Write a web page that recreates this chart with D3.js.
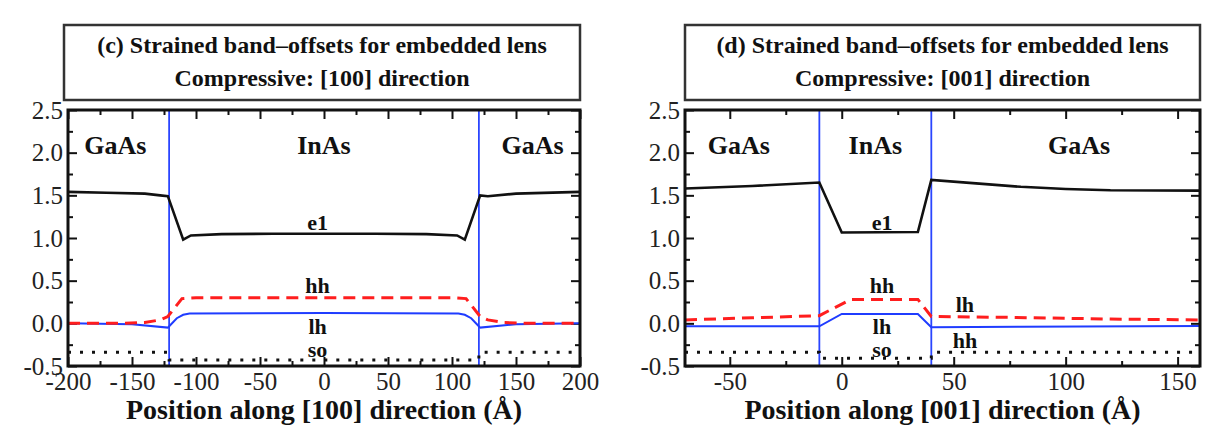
<!DOCTYPE html>
<html>
<head>
<meta charset="utf-8">
<script src="https://cdn.jsdelivr.net/npm/d3@7"></script>
<style>
  body { margin: 0; background: #fff; }
</style>
</head>
<body>
<div id="chart"></div>
<script>
// Panel (c): [100] direction
const titleC = ["(c) Strained band\u2013offsets for embedded lens", "Compressive: [100] direction"];
const axisTitleC = "Position along [100] direction (\u00c5)";
const xTicksC = [-200, -150, -100, -50, 0, 50, 100, 150, 200];
const interfacesC = [-121, 121];
const e1C = [[-200, 1.54], [-170, 1.53], [-140, 1.52], [-128, 1.50], [-122, 1.49], [-110, 0.98], [-104, 1.03],
  [-80, 1.045], [-40, 1.05], [0, 1.05], [40, 1.05], [80, 1.045], [104, 1.03], [110, 0.98],
  [122, 1.50], [128, 1.49], [150, 1.52], [200, 1.54]];
const hhC = [[-200, 0.0], [-160, 0.0], [-140, 0.01], [-128, 0.04], [-122, 0.08], [-111, 0.29], [-100, 0.3],
  [0, 0.3], [100, 0.3], [111, 0.29], [122, 0.08], [128, 0.04], [140, 0.01], [160, 0.0], [200, 0.0]];
const lhC = [[-200, 0.0], [-150, -0.01], [-122, -0.05], [-120, -0.02], [-115, 0.06], [-110, 0.1], [-105, 0.115],
  [0, 0.12], [105, 0.115], [110, 0.1], [115, 0.06], [120, -0.02], [122, -0.05], [150, -0.01], [200, 0.0]];
const soC = [[-200, -0.34], [-121, -0.34], [-121, -0.43], [121, -0.43], [121, -0.34], [200, -0.34]];
const labelsC = [
  { t: "GaAs", x: -163, y: 1.98, big: true }, { t: "InAs", x: 0, y: 1.98, big: true },
  { t: "GaAs", x: 163, y: 1.98, big: true },
  { t: "e1", x: -5, y: 1.09 }, { t: "hh", x: -5, y: 0.35 }, { t: "lh", x: -5, y: -0.12 }, { t: "so", x: -5, y: -0.40 }
];

// Panel (d): [001] direction
const titleD = ["(d) Strained band\u2013offsets for embedded lens", "Compressive: [001] direction"];
const axisTitleD = "Position along [001] direction (\u00c5)";
const xTicksD = [-50, 0, 50, 100, 150];
const interfacesD = [-10, 40];
const e1D = [[-70, 1.58], [-40, 1.61], [-10, 1.65], [0, 1.065], [34, 1.07], [40, 1.68], [60, 1.64],
  [80, 1.6], [100, 1.575], [120, 1.56], [160, 1.555]];
const hhD = [[-70, 0.04], [-40, 0.065], [-10, 0.09], [4, 0.28], [34, 0.28], [40, 0.08], [75, 0.07],
  [120, 0.05], [160, 0.04]];
const lhD = [[-70, -0.035], [-10, -0.035], [0, 0.11], [34, 0.11], [40, -0.045], [80, -0.04], [160, -0.03]];
const soD = [[-70, -0.34], [-10, -0.34], [-10, -0.41], [40, -0.41], [40, -0.34], [160, -0.34]];
const labelsD = [
  { t: "GaAs", x: -46, y: 1.98, big: true }, { t: "InAs", x: 15, y: 1.98, big: true },
  { t: "GaAs", x: 106, y: 1.98, big: true },
  { t: "e1", x: 18, y: 1.09 }, { t: "hh", x: 18, y: 0.35 }, { t: "lh", x: 18, y: -0.12 }, { t: "so", x: 18, y: -0.40 },
  { t: "lh", x: 55, y: 0.13 }, { t: "hh", x: 55, y: -0.29 }
];

const yTicks = [-0.5, 0.0, 0.5, 1.0, 1.5, 2.0, 2.5];

const W = 1205, H = 432;
const SERIF = "'Liberation Serif', 'Times New Roman', Times, serif";
const svg = d3.select("#chart").append("svg")
  .attr("width", W).attr("height", H);

function drawPanel(p) {
  const x = d3.scaleLinear().domain(p.xDomain).range([p.left, p.right]);
  const y = d3.scaleLinear().domain([-0.5, 2.5]).range([366, 110]);
  const g = svg.append("g");

  // title box
  g.append("rect")
    .attr("x", p.boxLeft).attr("y", 25)
    .attr("width", p.right - p.boxLeft).attr("height", 75)
    .attr("fill", "#fff").attr("stroke", "#333").attr("stroke-width", 2.5);
  const cx = (p.boxLeft + p.right) / 2;
  g.append("text").attr("x", cx).attr("y", 53)
    .attr("text-anchor", "middle").attr("font-weight", "bold").attr("font-size", 24)
    .attr("fill", "#111").text(p.title[0]);
  g.append("text").attr("x", cx).attr("y", 86)
    .attr("text-anchor", "middle").attr("font-weight", "bold").attr("font-size", 24)
    .attr("fill", "#111").text(p.title[1]);

  // minor ticks every 25 along x, every 0.25 along y
  const xMinor = d3.range(Math.ceil(p.xDomain[0] / 25) * 25, p.xDomain[1] + 1, 25)
    .filter(v => !p.xTicks.includes(v));
  const yMinor = [-0.25, 0.25, 0.75, 1.25, 1.75, 2.25];

  const axes = [
    [d3.axisBottom(x).tickValues(p.xTicks).tickSize(-9).tickPadding(6), `translate(0,366)`],
    [d3.axisBottom(x).tickValues(xMinor).tickSize(-5).tickFormat(""), `translate(0,366)`],
    [d3.axisTop(x).tickValues(p.xTicks).tickSize(-9).tickFormat(""), `translate(0,110)`],
    [d3.axisTop(x).tickValues(xMinor).tickSize(-5).tickFormat(""), `translate(0,110)`],
    [d3.axisLeft(y).tickValues(yTicks).tickSize(-9).tickPadding(5).tickFormat(d3.format(".1f")), `translate(${p.left},0)`],
    [d3.axisLeft(y).tickValues(yMinor).tickSize(-5).tickFormat(""), `translate(${p.left},0)`],
    [d3.axisRight(y).tickValues(yTicks).tickSize(-9).tickFormat(""), `translate(${p.right},0)`],
    [d3.axisRight(y).tickValues(yMinor).tickSize(-5).tickFormat(""), `translate(${p.right},0)`]
  ];
  axes.forEach(([ax, tr]) => {
    const a = g.append("g").attr("transform", tr).call(ax)
      .attr("font-family", null).attr("font-size", null);
    a.select(".domain").remove();
    a.selectAll("line").attr("stroke", "#111").attr("stroke-width", 2);
    a.selectAll("text").style("font-size", "25px").attr("fill", "#222")
      .text(function () { return this.textContent.replace("\u2212", "-"); });
  });

  // interface lines
  g.selectAll(".iface").data(p.interfaces).join("line")
    .attr("x1", d => x(d)).attr("x2", d => x(d))
    .attr("y1", 110).attr("y2", 366)
    .attr("stroke", "#2a45ff").attr("stroke-width", 1.8);

  const line = d3.line().x(d => x(d[0])).y(d => y(d[1]));

  g.append("path").attr("d", line(p.so)).attr("fill", "none")
    .attr("stroke", "#111").attr("stroke-width", 3).attr("stroke-dasharray", "3,9");
  g.append("path").attr("d", line(p.lh)).attr("fill", "none")
    .attr("stroke", "#1f3cff").attr("stroke-width", 2);
  g.append("path").attr("d", line(p.hh)).attr("fill", "none")
    .attr("stroke", "#ff1e1e").attr("stroke-width", 3).attr("stroke-dasharray", "12,7");
  g.append("path").attr("d", line(p.e1)).attr("fill", "none")
    .attr("stroke", "#111").attr("stroke-width", 2.6);

  // plot frame
  g.append("rect")
    .attr("x", p.left).attr("y", 110)
    .attr("width", p.right - p.left).attr("height", 256)
    .attr("fill", "none").attr("stroke", "#111").attr("stroke-width", 3);

  // annotations
  g.selectAll(".lbl").data(p.labels).join("text")
    .attr("x", d => x(d.x)).attr("y", d => y(d.y))
    .attr("text-anchor", "middle").attr("font-weight", "bold")
    .attr("font-size", d => d.big ? 26 : 22).attr("fill", "#111")
    .text(d => d.t);

  // axis title
  g.append("text").attr("x", (p.left + p.right) / 2).attr("y", 419)
    .attr("text-anchor", "middle").attr("font-weight", "bold").attr("font-size", 28)
    .attr("fill", "#111").text(p.axisTitle);
}

drawPanel({
  xDomain: [-200, 200], left: 68, right: 580, boxLeft: 64,
  title: titleC, axisTitle: axisTitleC, xTicks: xTicksC, interfaces: interfacesC,
  e1: e1C, hh: hhC, lh: lhC, so: soC, labels: labelsC
});
drawPanel({
  xDomain: [-70, 160], left: 685, right: 1200, boxLeft: 685,
  title: titleD, axisTitle: axisTitleD, xTicks: xTicksD, interfaces: interfacesD,
  e1: e1D, hh: hhD, lh: lhD, so: soD, labels: labelsD
});

// every text in serif, as in the figure
svg.selectAll("text").style("font-family", SERIF);
</script>
</body>
</html>
